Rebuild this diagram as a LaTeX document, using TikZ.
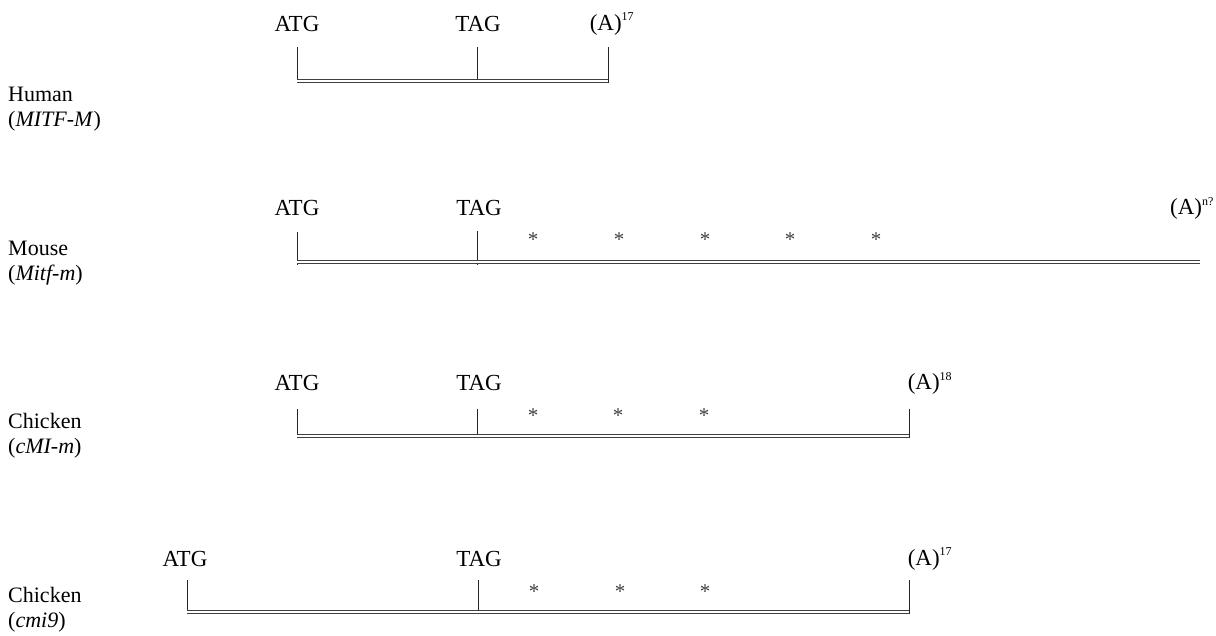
\documentclass[tikz,border=0pt]{standalone}
\usepackage{fontspec}
\setmainfont{Liberation Serif}
\begin{document}
\begin{tikzpicture}[x=1pt,y=-1pt,
  spec/.style={font=\fontsize{22}{25}\selectfont, inner sep=0pt, anchor=west, align=left},
  codon/.style={font=\fontsize{23}{26}\selectfont, inner sep=0pt},
  sup/.style={font=\fontsize{12}{13}\selectfont},
  star/.style={font=\fontsize{21}{22}\selectfont, inner sep=0pt, anchor=north, text=black!75},
  tick/.style={line width=0.8pt, black!85},
  bar/.style={double=white, double distance=1.8pt, line width=0.9pt, black!75}]
\useasboundingbox (0,0) rectangle (1216,636);

% ---------- Human ----------
\node[spec] (h1) at (8,109) {Human\\(\textit{MITF-M})};
\node[codon] (hatg) at (297,24) {ATG};
\node[codon] (htag) at (478,24) {TAG};
\node[codon] (hpa) at (612,24) {(A)\textsuperscript{\fontsize{12}{13}\selectfont 17}};
\coordinate (ht1) at (297,47); \coordinate (hb1) at (297,83);
\coordinate (ht2) at (477,47); \coordinate (hb2) at (477,83);
\coordinate (ht3) at (608,47); \coordinate (hb3) at (608,83);
\draw[tick] (ht1) -- (hb1);
\draw[tick] (ht2) -- (hb2);
\draw[tick] (ht3) -- (hb3);
\coordinate (hl) at (297,81); \coordinate (hr) at (608,81);
\draw[bar] (hl) -- (hr);

% ---------- Mouse ----------
\node[spec] (m1) at (8,263) {Mouse\\(\textit{Mitf-m})};
\node[codon] (matg) at (297,208) {ATG};
\node[codon] (mtag) at (479,208) {TAG};
\node[codon, anchor=west] (mpa) at (1170,208) {(A)\textsuperscript{\fontsize{12}{13}\selectfont n?}};
\coordinate (mt1) at (297,232); \coordinate (mb1) at (297,265);
\coordinate (mt2) at (477,231); \coordinate (mb2) at (477,265);
\draw[tick] (mt1) -- (mb1);
\draw[tick] (mt2) -- (mb2);
\coordinate (ml) at (297,262); \coordinate (mr) at (1200,262);
\draw[bar] (ml) -- (mr);
\node[star] (ms1) at (533,233) {*};
\node[star] (ms2) at (619,233) {*};
\node[star] (ms3) at (705,233) {*};
\node[star] (ms4) at (790,233) {*};
\node[star] (ms5) at (876,233) {*};

% ---------- Chicken cMI-m ----------
\node[spec] (c1) at (8,436) {Chicken\\(\textit{cMI-m})};
\node[codon] (catg) at (297,383) {ATG};
\node[codon] (ctag) at (479,383) {TAG};
\node[codon] (cpa) at (930,383) {(A)\textsuperscript{\fontsize{12}{13}\selectfont 18}};
\coordinate (ct1) at (297,409); \coordinate (cb1) at (297,438);
\coordinate (ct2) at (477,409); \coordinate (cb2) at (477,438);
\coordinate (ct3) at (909,409); \coordinate (cb3) at (909,438);
\draw[tick] (ct1) -- (cb1);
\draw[tick] (ct2) -- (cb2);
\draw[tick] (ct3) -- (cb3);
\coordinate (cl) at (297,436); \coordinate (cr) at (909,436);
\draw[bar] (cl) -- (cr);
\node[star] (cs1) at (533,409) {*};
\node[star] (cs2) at (618,409) {*};
\node[star] (cs3) at (704,409) {*};

% ---------- Chicken cmi9 ----------
\node[spec] (d1) at (8,610) {Chicken\\(\textit{cmi9})};
\node[codon] (datg) at (185,559) {ATG};
\node[codon] (dtag) at (479,559) {TAG};
\node[codon] (dpa) at (930,559) {(A)\textsuperscript{\fontsize{12}{13}\selectfont 17}};
\coordinate (dt1) at (187,580); \coordinate (db1) at (187,614);
\coordinate (dt2) at (478,580); \coordinate (db2) at (478,614);
\coordinate (dt3) at (909,580); \coordinate (db3) at (909,614);
\draw[tick] (dt1) -- (db1);
\draw[tick] (dt2) -- (db2);
\draw[tick] (dt3) -- (db3);
\coordinate (dl) at (187,612); \coordinate (dr) at (909,612);
\draw[bar] (dl) -- (dr);
\node[star] (ds1) at (534,585) {*};
\node[star] (ds2) at (620,585) {*};
\node[star] (ds3) at (705,585) {*};
\end{tikzpicture}
\end{document}
